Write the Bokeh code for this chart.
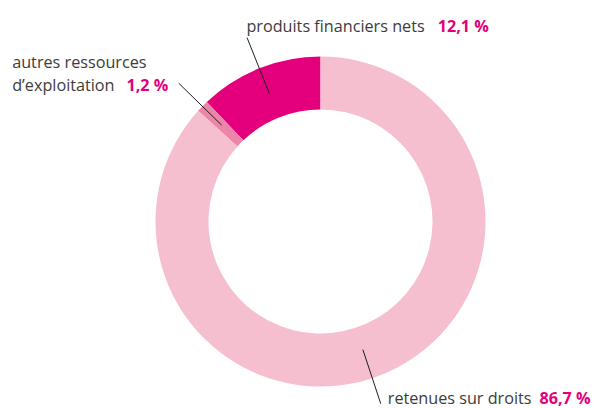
import numpy as np
from bokeh.plotting import figure
from bokeh.models import Range1d
from bokeh.embed import file_html
from bokeh.resources import INLINE
from bokeh.core.properties import value

# ---- data ----
categories = ["produits financiers nets", "autres ressources d’exploitation", "retenues sur droits"]
label_lines = [["produits financiers nets"], ["autres ressources", "d’exploitation"], ["retenues sur droits"]]
values = [12.1, 1.2, 86.7]
colors = ["#E4007C", "#ED85A9", "#F5BFCF"]

# ---- layout ----
W, H = 595, 408
cx, cy = 0.0, 0.0
R_out, R_in = 165, 112
FONT = "Open Sans"
FS = "16.2px"
GRAY = "#3C3C3B"
MAG = "#E4007C"

p = figure(width=W, height=H, output_backend="svg", toolbar_location=None,
           x_range=Range1d(-320, 275), y_range=Range1d(-187, 221),
           min_border=0, outline_line_color=None)
p.axis.visible = False
p.grid.visible = False
p.background_fill_color = "white"
p.border_fill_color = "white"

total = float(np.sum(values))
frac = np.array(values) / total
ends = np.cumsum(frac)
starts = ends - frac
start_ang = np.pi / 2 + starts * 2 * np.pi
end_ang = np.pi / 2 + ends * 2 * np.pi

p.annular_wedge(x=cx, y=cy, inner_radius=R_in, outer_radius=R_out,
                start_angle=start_ang, end_angle=end_ang,
                fill_color=colors, line_color=None)

mid = (start_ang + end_ang) / 2
# leader angles (last label's leader is offset from its slice middle)
lead_ang = [mid[0], mid[1], np.deg2rad(-71.7)]
r0 = [138, 138, 135]
r1 = [198, 198, 192]
lx0 = [cx + r * np.cos(a) for r, a in zip(r0, lead_ang)]
ly0 = [cy + r * np.sin(a) for r, a in zip(r0, lead_ang)]
lx1 = [cx + r * np.cos(a) for r, a in zip(r1, lead_ang)]
ly1 = [cy + r * np.sin(a) for r, a in zip(r1, lead_ang)]
p.segment(x0=lx0, y0=ly0, x1=lx1, y1=ly1, line_color="#1D1D1B", line_width=1)

pct = [("%.1f" % v).replace(".", ",") + " %" for v in values]

def txt(x, y, s, color, align="left", style="normal"):
    p.text(x=[x], y=[y], text=[s], text_color=color, text_font=value(FONT),
           text_font_size=FS, text_align=align, text_baseline="alphabetic",
           text_font_style=style)

# produits financiers nets
tx, ty = lx1[0] - 0.6, ly1[0] + 11.6
txt(tx, ty, label_lines[0][0], GRAY)
txt(tx + 191.3, ty, pct[0], MAG, style="bold")

# autres ressources d'exploitation
ax, ay = -308.3, ly1[1] - 1.7
txt(ax, ay + 23.3, label_lines[1][0], GRAY)
txt(ax, ay, label_lines[1][1], GRAY)
txt(ax + 114.3, ay, pct[1], MAG, style="bold")

# retenues sur droits
rx, ry = lx1[2] + 7, ly1[2] + 5.4
txt(rx, ry, label_lines[2][0], GRAY)
txt(rx + 151.6, ry, pct[2], MAG, style="bold")

open("out.html", "w").write(file_html(p, INLINE))
